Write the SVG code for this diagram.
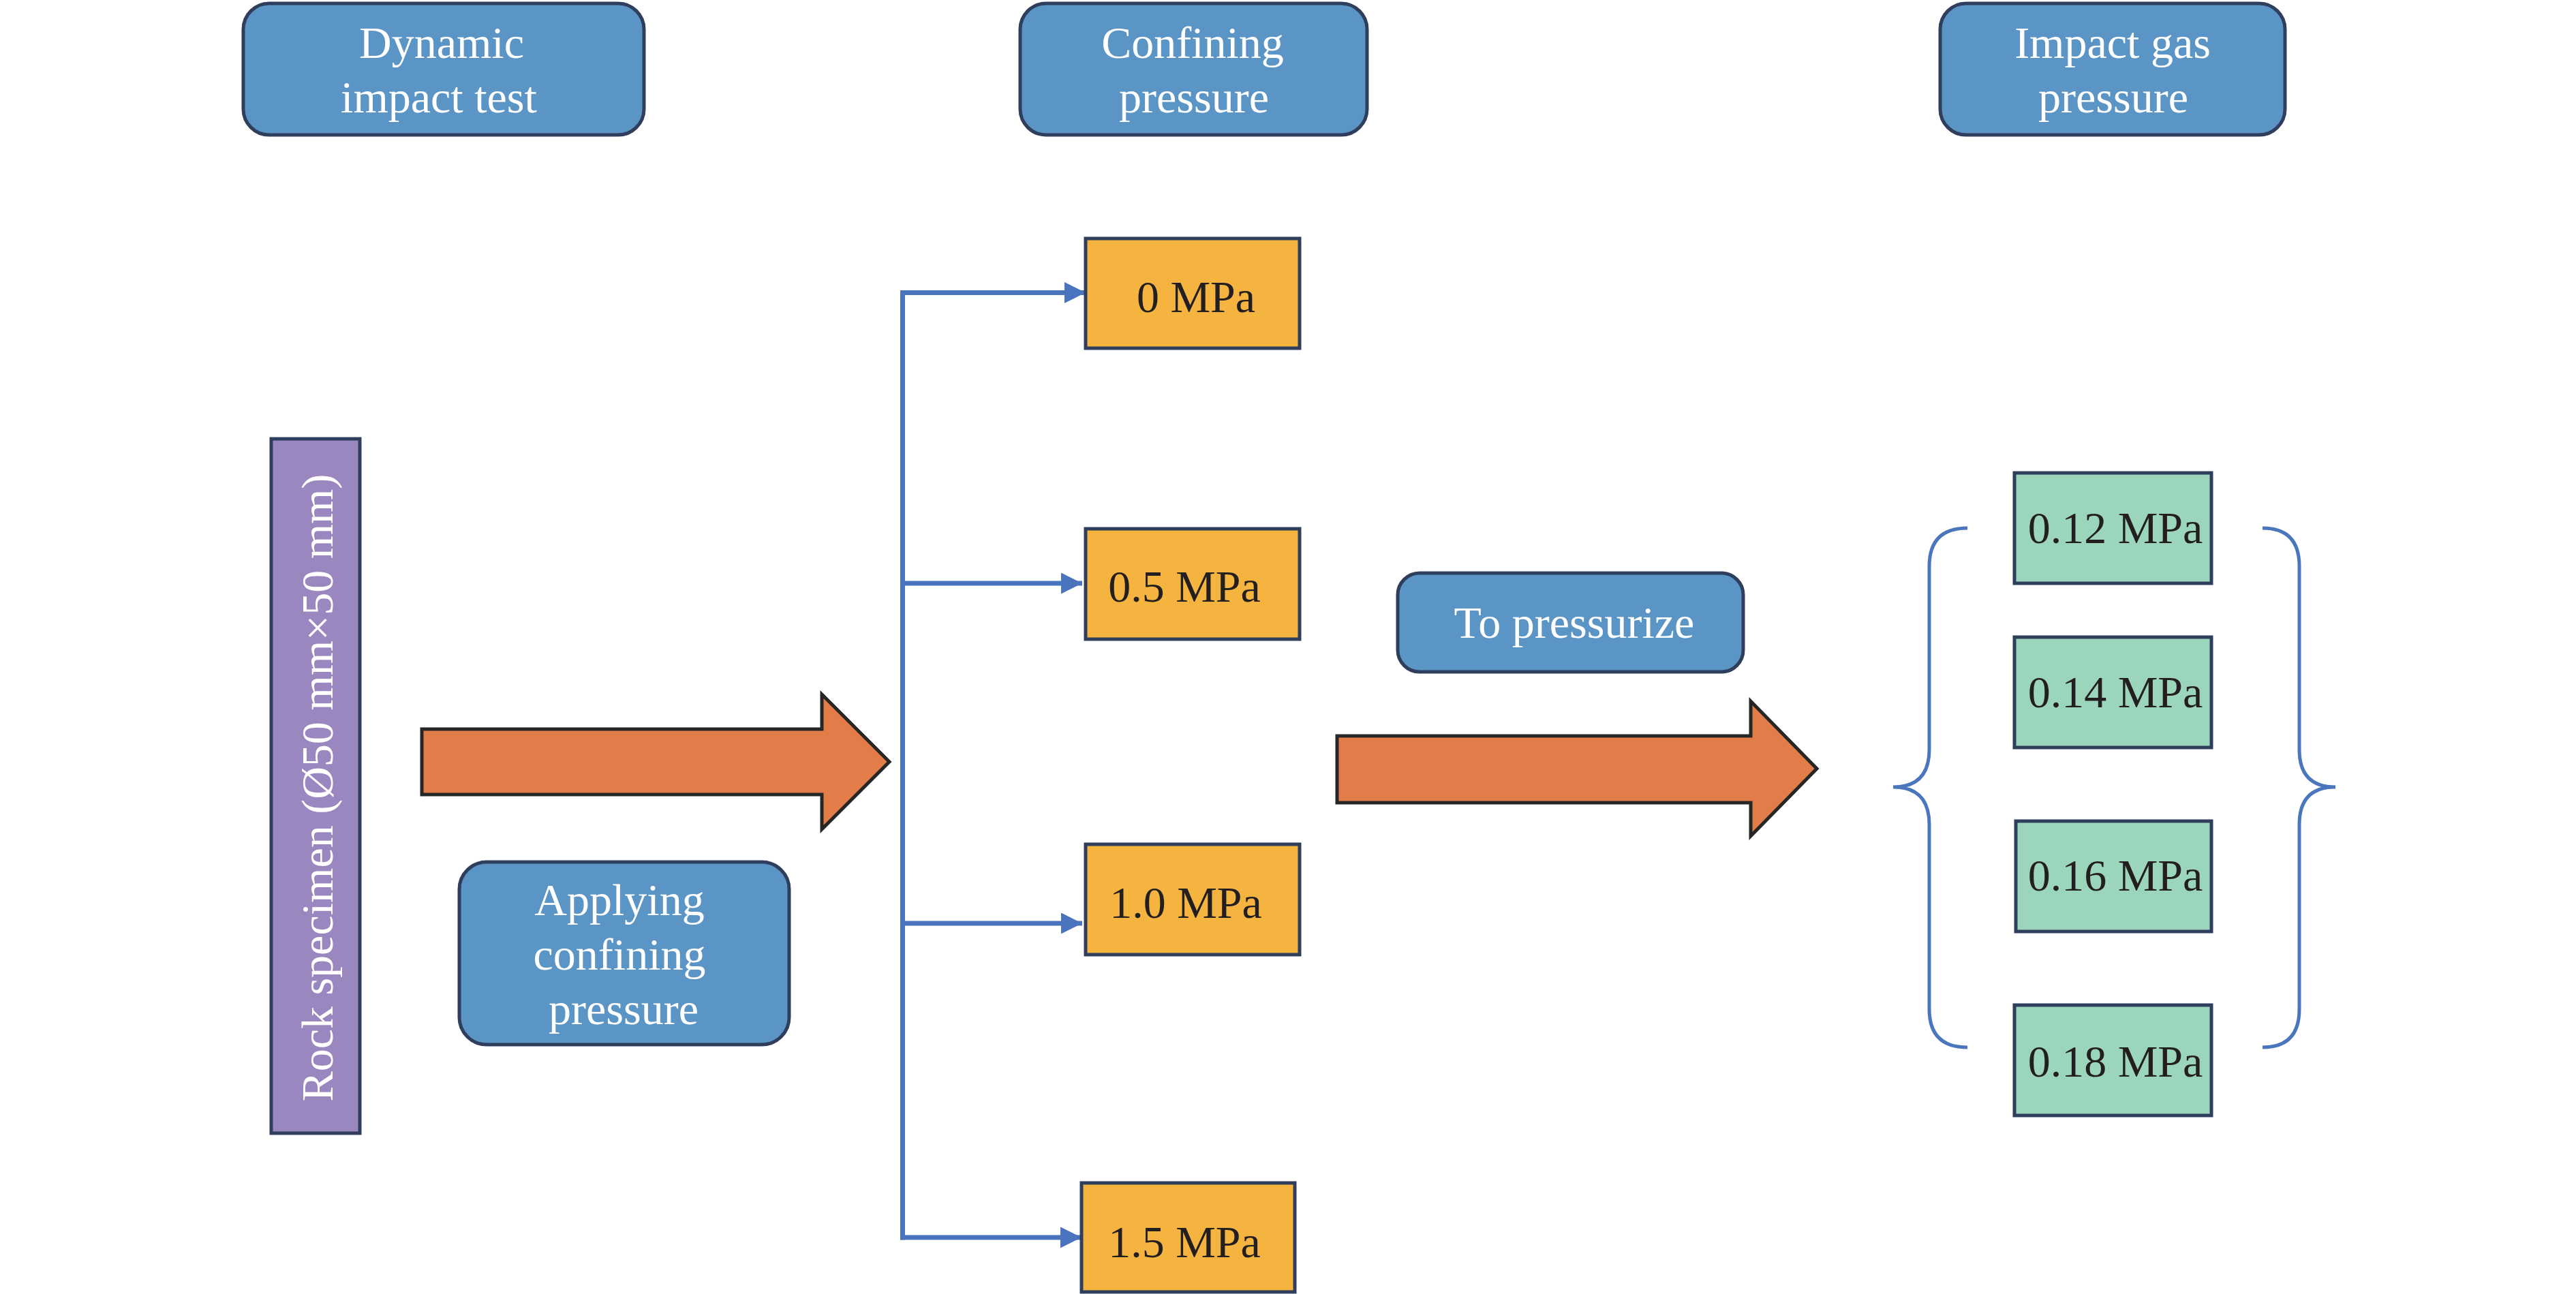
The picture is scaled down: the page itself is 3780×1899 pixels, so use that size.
<svg xmlns="http://www.w3.org/2000/svg" width="3780" height="1899" viewBox="0 0 3780 1899">
<style>
.bluebox{fill:#5B95C6;stroke:#2F3E5C;stroke-width:5}
.orange{fill:#F4B43F;stroke:#2F3E5C;stroke-width:5}
.green{fill:#9BD5BB;stroke:#2F3E5C;stroke-width:5}
.purple{fill:#9B87C0;stroke:#2F3E5C;stroke-width:5}
.bigarrow{fill:#E27C48;stroke:#262626;stroke-width:5;stroke-linejoin:miter}
.wt{font-family:"Liberation Serif","Times New Roman",serif;font-size:66px;fill:#FFFFFF;text-anchor:middle}
.dt{font-family:"Liberation Serif","Times New Roman",serif;font-size:66px;fill:#231F20;text-anchor:middle}
.conn{fill:none;stroke:#4A74BE;stroke-width:7}
.brace{fill:none;stroke:#4A76BE;stroke-width:5}
</style>
<defs>
<marker id="ah" markerUnits="userSpaceOnUse" markerWidth="32" markerHeight="32" refX="31" refY="15.5" orient="auto">
<path d="M0,0 L31,15.5 L0,31 Z" fill="#4A74BE"/>
</marker>
</defs>
<rect width="3780" height="1899" fill="#FFFFFF"/>

<g id="dynamic-impact-test">
<rect class="bluebox" x="357" y="5" width="588" height="193" rx="38"/>
<text class="wt" x="648" y="85">Dynamic</text>
<text class="wt" x="644" y="165">impact test</text>
</g>

<g id="confining-pressure-header">
<rect class="bluebox" x="1497" y="5" width="509" height="193" rx="38"/>
<text class="wt" x="1750" y="85">Confining</text>
<text class="wt" x="1752" y="165">pressure</text>
</g>

<g id="impact-gas-pressure-header">
<rect class="bluebox" x="2847" y="5" width="506" height="193" rx="38"/>
<text class="wt" x="3100" y="85">Impact gas</text>
<text class="wt" x="3101" y="165">pressure</text>
</g>

<g id="rock-specimen">
<rect class="purple" x="398" y="644" width="130" height="1019"/>
<text class="wt" transform="translate(488,1156) rotate(-90)">Rock specimen (Ø50 mm×50 mm)</text>
</g>

<g id="arrow-apply">
<path class="bigarrow" d="M619,1070 L1206,1070 L1206,1019 L1305,1118 L1206,1217 L1206,1166 L619,1166 Z"/>
</g>

<g id="applying-confining-pressure">
<rect class="bluebox" x="674" y="1265" width="484" height="268" rx="40"/>
<text class="wt" x="909" y="1343">Applying</text>
<text class="wt" x="909" y="1423">confining</text>
<text class="wt" x="915" y="1503">pressure</text>
</g>

<g id="connectors">
<path class="conn" d="M1324.5,429.5 L1324.5,1816" stroke-linecap="square"/>
<path class="conn" d="M1321,429.5 L1593,429.5" marker-end="url(#ah)"/>
<path class="conn" d="M1324.5,856 L1588,856" marker-end="url(#ah)"/>
<path class="conn" d="M1324.5,1355 L1588,1355" marker-end="url(#ah)"/>
<path class="conn" d="M1321,1816 L1587,1816" marker-end="url(#ah)"/>
</g>

<g id="cp-0">
<rect class="orange" x="1593" y="350" width="314" height="161"/>
<text class="dt" x="1755" y="458">0 MPa</text>
</g>
<g id="cp-0-5">
<rect class="orange" x="1593" y="776" width="314" height="162"/>
<text class="dt" x="1738" y="883">0.5 MPa</text>
</g>
<g id="cp-1-0">
<rect class="orange" x="1593" y="1239" width="314" height="162"/>
<text class="dt" x="1740" y="1347">1.0 MPa</text>
</g>
<g id="cp-1-5">
<rect class="orange" x="1587" y="1736" width="313" height="160"/>
<text class="dt" x="1738" y="1845">1.5 MPa</text>
</g>

<g id="to-pressurize">
<rect class="bluebox" x="2051" y="841" width="507" height="145" rx="32"/>
<text class="wt" x="2310" y="936">To pressurize</text>
</g>

<g id="arrow-pressurize">
<path class="bigarrow" d="M1962,1080 L2569,1080 L2569,1029 L2666,1128 L2569,1227 L2569,1178 L1962,1178 Z"/>
</g>

<g id="gp-0-12">
<rect class="green" x="2956" y="694" width="289" height="162"/>
<text class="dt" x="3104" y="797">0.12 MPa</text>
</g>
<g id="gp-0-14">
<rect class="green" x="2956" y="935" width="289" height="162"/>
<text class="dt" x="3104" y="1038">0.14 MPa</text>
</g>
<g id="gp-0-16">
<rect class="green" x="2958" y="1205" width="287" height="162"/>
<text class="dt" x="3104" y="1307">0.16 MPa</text>
</g>
<g id="gp-0-18">
<rect class="green" x="2956" y="1475" width="289" height="162"/>
<text class="dt" x="3104" y="1580">0.18 MPa</text>
</g>

<g id="braces">
<path class="brace" d="M2887,775 Q2831,775 2831,831 L2831,1100 Q2831,1155 2778,1155 Q2831,1155 2831,1210 L2831,1481 Q2831,1537 2887,1537"/>
<path class="brace" d="M3320,775 Q3374,775 3374,831 L3374,1100 Q3374,1155 3427,1155 Q3374,1155 3374,1210 L3374,1481 Q3374,1537 3320,1537"/>
</g>
</svg>
